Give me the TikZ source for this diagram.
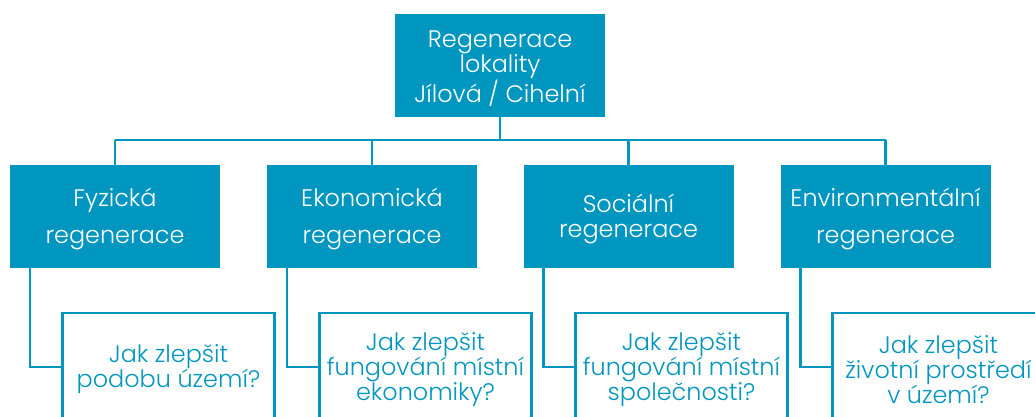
\documentclass[tikz,border=0pt]{standalone}
\usepackage{fontspec}
\IfFontExistsTF{Poppins Light}{\setmainfont{Poppins Light}}{\setmainfont{Poppins}}
\definecolor{rblue}{RGB}{0,150,192}
\newcommand{\lowerstrut}{\rule{0pt}{23bp}}
\begin{document}
\begin{tikzpicture}[x=1bp,y=-1bp,
  txt/.style={font=\fontsize{24}{25}\selectfont},
  topbox/.style={txt,fill=rblue,text=white,inner sep=0pt,align=center},
  catbox/.style={txt,fill=rblue,text=white,inner sep=0pt,minimum width=210bp,minimum height=103bp,align=center},
  qbox/.style={txt,draw=rblue,line width=2.6bp,text=rblue,fill=white,inner sep=0pt,minimum width=212bp,minimum height=108bp,align=center},
  conn/.style={draw=rblue,line width=2.6bp}]
\clip (0,0) rectangle (1035,416);
\fill[white] (0,0) rectangle (1035,416);
\node[topbox,minimum width=210bp,minimum height=103bp] (top) at (500,65.5) {\lowerstrut Regenerace\\lokality\\Jílová / Cihelní};
\node[catbox] (b1) at (115,216.5) {\lowerstrut Fyzická\\[12bp]regenerace};
\node[catbox] (b2) at (372,216.5) {\lowerstrut Ekonomická\\[12bp]regenerace};
\node[catbox] (b3) at (628.5,216.5) {\lowerstrut Sociální\\regenerace};
\node[catbox] (b4) at (885.5,216.5) {\lowerstrut Environmentální\\[12bp]regenerace};
\node[qbox] (q1) at (168.5,367) {\lowerstrut Jak zlepšit\\podobu území?};
\node[qbox] (q2) at (425.5,367) {\lowerstrut Jak zlepšit\\fungování místní\\ekonomiky?};
\node[qbox] (q3) at (681.5,367) {\lowerstrut Jak zlepšit\\fungování místní\\společnosti?};
\node[qbox] (q4) at (938.5,367) {\lowerstrut Jak zlepšit\\životní prostředí\\v území?};
\coordinate (hub) at (500,140);
\draw[conn] ([yshift=3bp]top.south) -- (hub);
\draw[conn] (b1.north |- hub) -- (b4.north |- hub);
\foreach \b in {b1,b2,b3,b4}{
  \draw[conn] (\b.north |- hub) -- ([yshift=-3bp]\b.north);
}
\foreach \b/\q in {b1/q1,b2/q2,b3/q3,b4/q4}{
  \draw[conn] ([xshift=20bp,yshift=2bp]\b.south west) |- (\q.west);
}
\end{tikzpicture}
\end{document}
